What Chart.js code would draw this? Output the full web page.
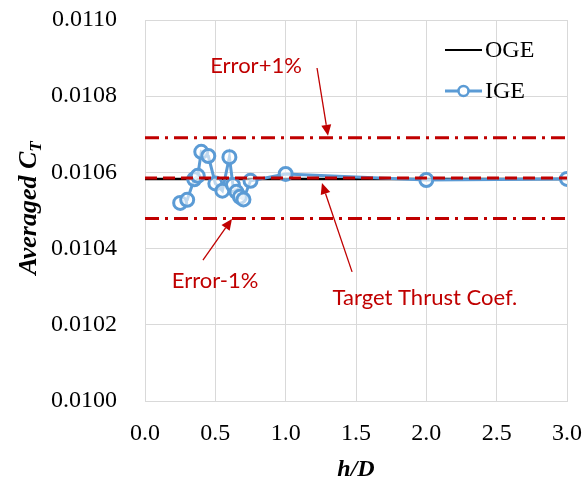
<!DOCTYPE html>
<html>
<head>
<meta charset="utf-8">
<script src="https://cdn.jsdelivr.net/npm/chart.js@4"></script>
<style>
  body { margin: 0; background: #fff; }
  #grafico { display: block; }
</style>
</head>
<body>
<canvas id="grafico" width="587" height="480"></canvas>
<script>
// h/D values and averaged CT
var hD = [0.25, 0.3, 0.35, 0.375, 0.4, 0.45, 0.5, 0.55, 0.6, 0.625, 0.65, 0.675, 0.7, 0.75, 1.0, 2.0, 3.0];
var ctIGE = [0.010520, 0.010528, 0.010582, 0.010591, 0.010654, 0.010643, 0.010571, 0.010552, 0.010640,
             0.010567, 0.010549, 0.010536, 0.010529, 0.010578, 0.010596, 0.010580, 0.010583];
var ctOGE = 0.010583;
var ctAlvo = 0.010585;
var erroMais = 0.010691;
var erroMenos = 0.010479;
var xLimites = [0, 3];
var yTicks = [0.0100, 0.0102, 0.0104, 0.0106, 0.0108, 0.0110];
var xTicks = [0.0, 0.5, 1.0, 1.5, 2.0, 2.5, 3.0];

// annotation texts with arrow (from -> to), in data units
var anotacoes = [
  { texto: "Error+1%", tx: 0.789, ty: 0.010879, de: [1.223, 0.010874], para: [1.301, 0.010696] },
  { texto: "Error-1%", tx: 0.498, ty: 0.010315, de: [0.412, 0.010370], para: [0.618, 0.010478] },
  { texto: "Target Thrust Coef.", tx: 1.990, ty: 0.010270, de: [1.472, 0.010339], para: [1.258, 0.010572] }
];

var vermelho = "#C00000";
var azul = "#5B9BD5";
var serif = "'Liberation Serif', 'Times New Roman', serif";

function linhaH(valor) {
  return [{ x: xLimites[0], y: valor }, { x: xLimites[1], y: valor }];
}

var pontosIGE = hD.map(function (h, i) { return { x: h, y: ctIGE[i] }; });

var pluginExtras = {
  id: 'extras',
  afterDatasetsDraw: function (chart) {
    var ctx = chart.ctx;
    var sx = chart.scales.x, sy = chart.scales.y;
    var area = chart.chartArea;
    ctx.save();

    // annotations
    anotacoes.forEach(function (a) {
      var x0 = sx.getPixelForValue(a.de[0]), y0 = sy.getPixelForValue(a.de[1]);
      var x1 = sx.getPixelForValue(a.para[0]), y1 = sy.getPixelForValue(a.para[1]);
      var ang = Math.atan2(y1 - y0, x1 - x0);
      var L = 11, W = 5;
      var bx = x1 - L * Math.cos(ang), by = y1 - L * Math.sin(ang);
      ctx.strokeStyle = vermelho;
      ctx.fillStyle = vermelho;
      ctx.lineWidth = 1.3;
      ctx.beginPath();
      ctx.moveTo(x0, y0);
      ctx.lineTo(bx, by);
      ctx.stroke();
      ctx.beginPath();
      ctx.moveTo(x1, y1);
      ctx.lineTo(bx + W * Math.sin(ang), by - W * Math.cos(ang));
      ctx.lineTo(bx - W * Math.sin(ang), by + W * Math.cos(ang));
      ctx.closePath();
      ctx.fill();

      ctx.font = "22px Lato, 'Open Sans', sans-serif";
      ctx.textAlign = 'center';
      ctx.textBaseline = 'middle';
      ctx.fillText(a.texto, sx.getPixelForValue(a.tx), sy.getPixelForValue(a.ty));
    });

    // legend
    var lx = area.right - 122, ly1 = area.top + 30, ly2 = area.top + 71;
    ctx.lineWidth = 2;
    ctx.strokeStyle = '#000';
    ctx.beginPath();
    ctx.moveTo(lx, ly1);
    ctx.lineTo(lx + 37, ly1);
    ctx.stroke();
    ctx.lineWidth = 3;
    ctx.strokeStyle = azul;
    ctx.beginPath();
    ctx.moveTo(lx, ly2);
    ctx.lineTo(lx + 37, ly2);
    ctx.stroke();
    ctx.fillStyle = '#fff';
    ctx.lineWidth = 2.5;
    ctx.beginPath();
    ctx.arc(lx + 18.5, ly2, 5, 0, Math.PI * 2);
    ctx.fill();
    ctx.stroke();
    ctx.fillStyle = '#000';
    ctx.font = "24px " + serif;
    ctx.textAlign = 'left';
    ctx.textBaseline = 'middle';
    ctx.fillText("OGE", lx + 40, ly1 + 1);
    ctx.fillText("IGE", lx + 40, ly2 + 1);

    // axis titles
    ctx.font = "bold italic 24px " + serif;
    ctx.textAlign = 'center';
    ctx.textBaseline = 'alphabetic';
    ctx.fillText("h/D", (area.left + area.right) / 2, 476);

    var principal = "Averaged C";
    ctx.font = "bold italic 26px " + serif;
    var w1 = ctx.measureText(principal).width;
    ctx.font = "bold italic 17px " + serif;
    var w2 = ctx.measureText("T").width;
    var total = w1 + w2;
    ctx.translate(36, 208);
    ctx.rotate(-Math.PI / 2);
    ctx.textAlign = 'left';
    ctx.font = "bold italic 26px " + serif;
    ctx.fillText(principal, -total / 2, 0);
    ctx.font = "bold italic 17px " + serif;
    ctx.fillText("T", -total / 2 + w1, 5);

    ctx.restore();
  }
};

var ctx = document.getElementById('grafico');
var grafico = new Chart(ctx, {
  type: 'scatter',
  data: {
    datasets: [
      { label: 'Target', data: linhaH(ctAlvo), showLine: true, borderColor: vermelho, borderWidth: 3,
        borderDash: [12, 6], pointRadius: 0, order: 1 },
      { label: 'Error+1%', data: linhaH(erroMais), showLine: true, borderColor: vermelho, borderWidth: 3,
        borderDash: [14, 6, 3, 6], pointRadius: 0, order: 1 },
      { label: 'Error-1%', data: linhaH(erroMenos), showLine: true, borderColor: vermelho, borderWidth: 3,
        borderDash: [14, 6, 3, 6], pointRadius: 0, order: 1 },
      { label: 'IGE', data: pontosIGE, showLine: true, borderColor: azul, borderWidth: 3,
        pointRadius: 6.5, pointBorderWidth: 3, pointBackgroundColor: 'rgba(255,255,255,0.6)',
        pointBorderColor: azul, order: 2 },
      { label: 'OGE', data: linhaH(ctOGE), showLine: true, borderColor: '#000', borderWidth: 2.5,
        pointRadius: 0, order: 3 }
    ]
  },
  options: {
    responsive: false,
    animation: false,
    layout: { padding: { top: 20, right: 20, left: 0, bottom: 0 } },
    plugins: { legend: { display: false }, tooltip: { enabled: false } },
    scales: {
      x: {
        type: 'linear',
        min: xLimites[0],
        max: xLimites[1],
        afterFit: function (s) { s.height = 79; s.paddingLeft = 0; s.paddingRight = 0; },
        afterBuildTicks: function (s) { s.ticks = xTicks.map(function (v) { return { value: v }; }); },
        grid: { color: '#D9D9D9', lineWidth: 1, drawTicks: false },
        border: { color: '#D9D9D9' },
        ticks: {
          padding: 18,
          color: '#000',
          font: { family: serif, size: 24 },
          callback: function (v) { return Number(v).toFixed(1); }
        }
      },
      y: {
        type: 'linear',
        min: yTicks[0],
        max: yTicks[yTicks.length - 1],
        afterFit: function (s) { s.width = 145; s.paddingTop = 0; s.paddingBottom = 0; },
        afterBuildTicks: function (s) { s.ticks = yTicks.map(function (v) { return { value: v }; }); },
        grid: { color: '#D9D9D9', lineWidth: 1, drawTicks: false },
        border: { color: '#D9D9D9' },
        ticks: {
          padding: 28,
          color: '#000',
          font: { family: serif, size: 24 },
          callback: function (v) { return Number(v).toFixed(4); }
        }
      }
    }
  },
  plugins: [pluginExtras]
});
</script>
</body>
</html>
